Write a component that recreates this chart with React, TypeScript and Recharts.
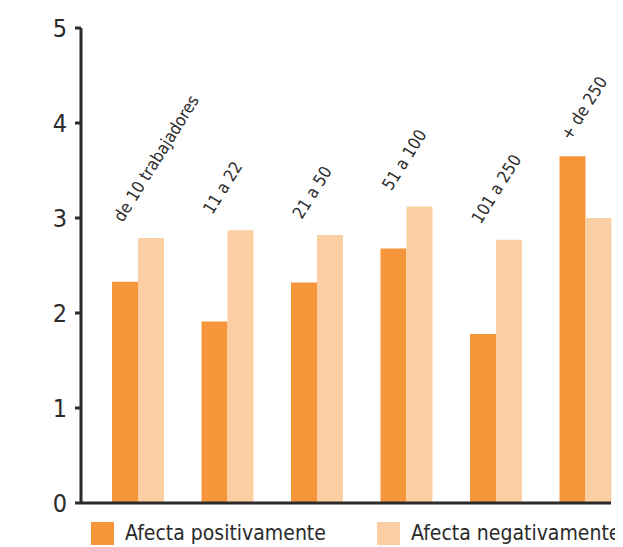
import { ComposedChart, Bar, Line, XAxis, YAxis, LabelList } from 'recharts';

const categories = ['de 10 trabajadores', '11 a 22', '21 a 50', '51 a 100', '101 a 250', '+ de 250'];
const positivo = [2.33, 1.91, 2.32, 2.68, 1.78, 3.65];
const negativo = [2.79, 2.87, 2.82, 3.12, 2.77, 3.0];
const yTicks = [0, 1, 2, 3, 4, 5];

const FONT = '"DejaVu Sans Condensed", "Liberation Sans Narrow", sans-serif';
const INK = '#2b2b2b';
const ORANGE = '#f5963a';
const PEACH = '#fbcfa3';

// top of the taller bar in each group, used only to hang the rotated label
const data = categories.map((c, i) => ({
    cat: c,
    pos: positivo[i],
    neg: negativo[i],
    top: Math.max(positivo[i], negativo[i]),
}));

const CatLabel = (props: any) => {
    const { x, y, index } = props;
    const tx = x - 15;
    const ty = y - 15;
    return (
        <text
            x={tx}
            y={ty}
            transform={`rotate(-58, ${tx}, ${ty})`}
            fontFamily={FONT}
            fontSize={17}
            fill={INK}
            textAnchor="start"
        >
            {categories[index]}
        </text>
    );
};

const legendText = {
    marginLeft: 11,
    fontFamily: FONT,
    fontSize: 21,
    color: INK,
    lineHeight: '23px',
    whiteSpace: 'nowrap' as const,
};

export default function App() {
    return (
        <div style={{ position: 'relative', width: 615, height: 539, overflow: 'hidden' }}>
            <ComposedChart
                width={615}
                height={539}
                data={data}
                margin={{ top: 20, right: 12, left: 13, bottom: 43 }}
                barGap={0}
            >
                <XAxis
                    dataKey="cat"
                    tick={false}
                    tickLine={false}
                    height={1}
                    padding={{ left: 12, right: -19 }}
                    axisLine={{ stroke: INK, strokeWidth: 3 }}
                />
                <YAxis
                    domain={[0, 5]}
                    ticks={yTicks}
                    width={60}
                    tickSize={6}
                    tickMargin={8}
                    axisLine={{ stroke: INK, strokeWidth: 3 }}
                    tickLine={{ stroke: INK, strokeWidth: 3 }}
                    tick={{ fontFamily: FONT, fontSize: 25, fill: INK }}
                />
                <Bar dataKey="pos" fill={ORANGE} barSize={26} isAnimationActive={false} />
                <Bar dataKey="neg" fill={PEACH} barSize={26} isAnimationActive={false} />
                <Line
                    dataKey="top"
                    stroke="none"
                    dot={false}
                    activeDot={false}
                    legendType="none"
                    isAnimationActive={false}
                >
                    <LabelList dataKey="top" content={<CatLabel />} />
                </Line>
            </ComposedChart>
            <div style={{ position: 'absolute', left: 83, top: 514, display: 'flex', alignItems: 'center' }}>
                <div style={{ width: 23, height: 23, background: ORANGE }} />
                <span style={legendText}>Afecta positivamente</span>
            </div>
            <div style={{ position: 'absolute', left: 369, top: 514, display: 'flex', alignItems: 'center' }}>
                <div style={{ width: 23, height: 23, background: PEACH }} />
                <span style={legendText}>Afecta negativamente</span>
            </div>
        </div>
    );
}
